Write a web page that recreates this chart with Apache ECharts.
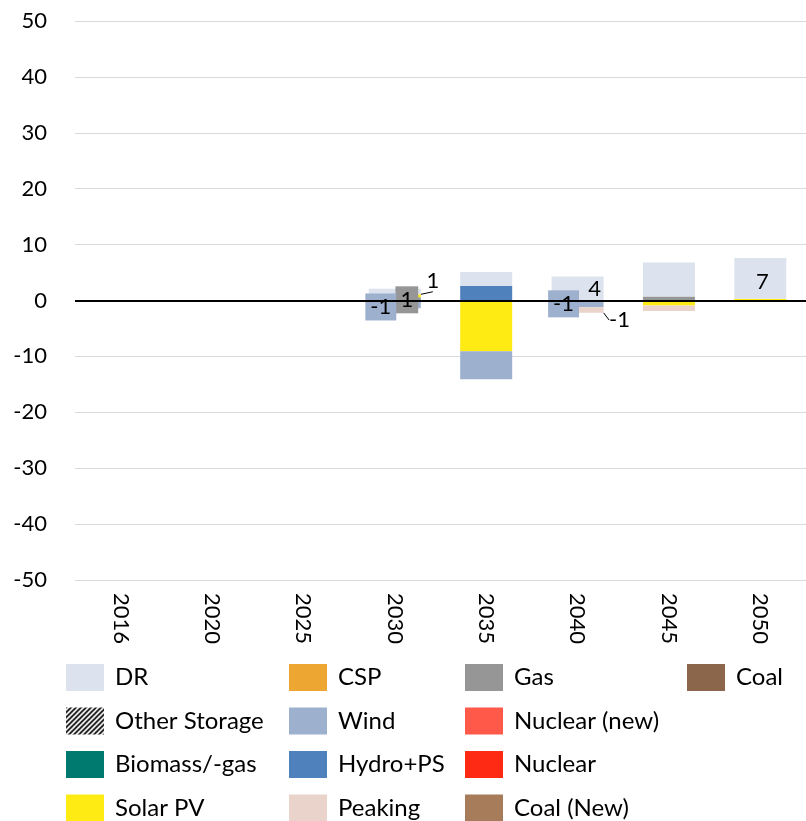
<!DOCTYPE html>
<html lang="en">
<head>
<meta charset="UTF-8" />
<title>Capacity change</title>
<style>
	* {
		box-sizing: border-box;
		margin: 0;
		padding: 0;
	}
	#chart {
		width: 806px;
		height: 821px;
		background-color: #fff;
	}
</style>
</head>
<body>
<div id="chart"></div>
<script src="https://cdn.jsdelivr.net/npm/echarts@6/dist/echarts.min.js"></script>
<script>
// categories
var years = ['2016', '2020', '2025', '2030', '2035', '2040', '2045', '2050'];
var yTicks = [-50, 50, 10]; // min, max, step

// series values (GW)
var coal = [0, 0, 0, 0, 0, 0, 0, 0];
var coalNew = [0, 0, 0, 0, 0, 0, 0, 0];
var nuclear = [0, 0, 0, 0, 0, 0, 0, 0];
var nuclearNew = [0, 0, 0, 0, 0, 0, 0, 0];
var biomass = [0, 0, 0, -0.2, 0, 0, 0, 0];
var gas = [0, 0, 0, 0.6, 0, 0, 0.7, 0];
var hydro = [0, 0, 0, 0, 2.6, 0, 0, 0.1];
var solarPv = [0, 0, 0, 0.5, -9.1, 0, -0.9, 0.2];
var wind = [0, 0, 0, -1.2, -5.0, -1.2, 0, -0.2];
var peaking = [0, 0, 0, 0, 0, -1.0, -1.0, 0];
var csp = [0, 0, 0, 0, 0, 0, 0, 0];
var otherStorage = [0, 0, 0, 0, 0, 0, 0, 0];
var dr = [0, 0, 0.1, 1.0, 2.5, 4.3, 6.1, 7.3];

// hatch for Other Storage
var hatch = document.createElement('canvas');
hatch.width = 5;
hatch.height = 5;
var hc = hatch.getContext('2d');
hc.fillStyle = '#fff';
hc.fillRect(0, 0, 5, 5);
hc.strokeStyle = '#000';
hc.lineWidth = 1.6;
hc.beginPath();
hc.moveTo(-1, 6); hc.lineTo(6, -1);
hc.moveTo(-1, 1); hc.lineTo(1, -1);
hc.moveTo(4, 6); hc.lineTo(6, 4);
hc.stroke();

// stacking order from zero outward
var seriesDefs = [
	{ name: 'Coal', data: coal, color: '#8B664A' },
	{ name: 'Coal (New)', data: coalNew, color: '#A67C5A' },
	{ name: 'Nuclear', data: nuclear, color: '#FF2A14' },
	{ name: 'Nuclear (new)', data: nuclearNew, color: '#FF594A' },
	{ name: 'Biomass/-gas', data: biomass, color: '#007A6E' },
	{ name: 'Gas', data: gas, color: '#969696' },
	{ name: 'Hydro+PS', data: hydro, color: '#4F81BD' },
	{ name: 'Solar PV', data: solarPv, color: '#FFEB14' },
	{ name: 'Wind', data: wind, color: '#9DB0CE' },
	{ name: 'Peaking', data: peaking, color: '#E9D3CA' },
	{ name: 'CSP', data: csp, color: '#EDA632' },
	{ name: 'Other Storage', data: otherStorage, color: { image: hatch, repeat: 'repeat' } },
	{ name: 'DR', data: dr, color: '#DCE3EE' }
];

// which values carry a data label (boxed ones sit on the series colour)
var labelSpecs = [
	{ name: 'Wind', idx: 3, move: [-14, 2], box: true },
	{ name: 'Gas', idx: 3, move: [12, 1], box: true },
	{ name: 'Solar PV', idx: 3, move: [38, -15], line: true },
	{ name: 'DR', idx: 5, move: [17, 0] },
	{ name: 'Wind', idx: 5, move: [-14, 0], box: true },
	{ name: 'Peaking', idx: 5, move: [42, 10], line: true },
	{ name: 'DR', idx: 7, move: [2, 3] }
];

var font = 'Lato, "Open Sans", sans-serif';

function findSpec(name, idx) {
	for (var i = 0; i < labelSpecs.length; i++) {
		if (labelSpecs[i].name === name && labelSpecs[i].idx === idx) return labelSpecs[i];
	}
	return null;
}

var series = seriesDefs.map(function (d) {
	return {
		name: d.name,
		type: 'bar',
		stack: 'total',
		barWidth: 52,
		itemStyle: { color: d.color },
		emphasis: { disabled: true },
		label: { show: false },
		labelLine: { show: false },
		labelLayout: function (p) {
			var sp = findSpec(d.name, p.dataIndex);
			if (sp) return { dx: sp.move[0], dy: sp.move[1], hideOverlap: false };
			return {};
		},
		data: d.data.map(function (v, i) {
			var sp = findSpec(d.name, i);
			if (!sp) return v;
			var item = {
				value: v,
				label: {
					show: true,
					position: 'inside',
					formatter: function (p) { return String(Math.round(p.value)); },
					color: '#000',
					fontFamily: font,
					fontSize: 22,
					backgroundColor: sp.box ? d.color : 'transparent',
					padding: sp.box ? [3, 5, 2, 5] : 0
				}
			};
			if (sp.line) {
				item.labelLine = { show: true, lineStyle: { color: '#000', width: 1 } };
			}
			return item;
		})
	};
});

// black zero line over the bars
series[series.length - 1].markLine = {
	silent: true,
	symbol: 'none',
	label: { show: false },
	lineStyle: { color: '#000', width: 2, type: 'solid' },
	data: [{ yAxis: 0 }]
};

// legend laid out in 4 columns like the original
var legendCols = [
	['DR', 'Other Storage', 'Biomass/-gas', 'Solar PV'],
	['CSP', 'Wind', 'Hydro+PS', 'Peaking'],
	['Gas', 'Nuclear (new)', 'Nuclear', 'Coal (New)'],
	['Coal']
];
var legendLeft = [66, 289, 465, 687];

var legends = legendCols.map(function (names, c) {
	return {
		data: names,
		orient: 'vertical',
		left: legendLeft[c],
		top: 664,
		height: 170,
		padding: 0,
		itemWidth: 38,
		itemHeight: 27,
		itemGap: 16.5,
		selectedMode: false,
		icon: 'rect',
		textStyle: { fontFamily: font, fontSize: 24, color: '#000', padding: [0, 0, 0, 6] }
	};
});

var chart = echarts.init(document.getElementById('chart'));
chart.setOption({
	animation: false,
	grid: { left: 75, top: 21, width: 736, height: 559 },
	legend: legends,
	xAxis: {
		type: 'category',
		data: years,
		axisLine: { show: false, onZero: false },
		axisTick: { show: false },
		axisLabel: { rotate: -90, margin: 13, fontFamily: font, fontSize: 22, color: '#000' }
	},
	yAxis: {
		type: 'value',
		min: yTicks[0],
		max: yTicks[1],
		interval: yTicks[2],
		axisLine: { show: false },
		axisTick: { show: false },
		axisLabel: { margin: 28, fontFamily: font, fontSize: 22, color: '#000' },
		splitLine: { lineStyle: { color: '#D9D9D9', width: 1 } }
	},
	series: series
});
</script>
</body>
</html>
